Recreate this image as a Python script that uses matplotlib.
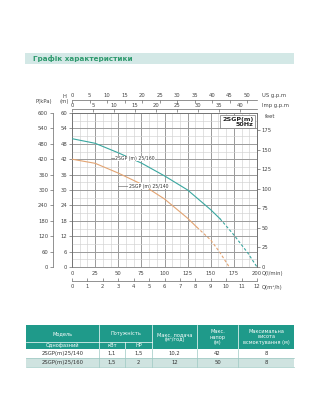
import matplotlib
matplotlib.use("Agg")
import matplotlib.pyplot as plt
import numpy as np
from matplotlib.patches import Rectangle

plt.rcParams['font.family'] = ['DejaVu Sans']

# ---- data ----
title = "Графік характеристики"
q_160 = [0, 25, 50, 75, 100, 125, 150, 160]
h_160 = [50, 48.2, 44.5, 40.5, 35.5, 30, 22.3, 18.8]
q_160_dash = [160, 175, 190, 200]
h_160_dash = [18.8, 12.5, 5.5, 0]
q_140 = [0, 25, 50, 75, 100, 125, 135]
h_140 = [42, 40.4, 36.6, 32.3, 26.5, 19, 15.5]
q_140_dash = [135, 150, 160, 170]
h_140_dash = [15.5, 10.5, 5.6, 0]
label_160 = "2SGP (m) 25/160"
label_140 = "2SGP (m) 25/140"
q_ticks = [0, 25, 50, 75, 100, 125, 150, 175, 200]
h_ticks = [0, 6, 12, 18, 24, 30, 36, 42, 48, 54, 60]
kpa_ticks = [0, 60, 120, 180, 240, 300, 360, 420, 480, 540, 600]
m3h_ticks = list(range(0, 13))
us_gpm_ticks = [0, 5, 10, 15, 20, 25, 30, 35, 40, 45, 50]
imp_gpm_ticks = [0, 5, 10, 15, 20, 25, 30, 35, 40]
feet_ticks = [0, 25, 50, 75, 100, 125, 150, 175]

tbl_models = ["2SGP(m)25/140", "2SGP(m)25/160"]
tbl_kw = ["1,1", "1,5"]
tbl_hp = ["1,5", "2"]
tbl_flow = ["10,2", "12"]
tbl_head = ["42", "50"]
tbl_suction = ["8", "8"]

W, H = 320, 420
fig = plt.figure(figsize=(W / 100, H / 100), dpi=100)
fig.patch.set_facecolor("white")

# background pixel axes
bg = fig.add_axes([0, 0, 1, 1], zorder=0)
bg.set_xlim(0, W)
bg.set_ylim(H, 0)
bg.axis("off")

# header bar
bg.add_patch(Rectangle((25, 53), 269, 11, facecolor="#d3e8e6", edgecolor="none"))
bg.text(33, 58.5, title, fontsize=5.2, fontweight="bold", color="#2f9a6e", va="center", ha="left")

# ---- main chart ----
px0, px1, py0, py1 = 72, 257, 113, 267
ax = fig.add_axes([px0 / W, 1 - py1 / H, (px1 - px0) / W, (py1 - py0) / H], zorder=2)
ax.set_xlim(0, 200)
ax.set_ylim(0, 60)
ax.set_facecolor("none")

# grid
for x in np.arange(0, 200.01, 25 / 3):
    major = abs(x / 25 - round(x / 25)) < 1e-6
    ax.axvline(x, color="#9a9a9a" if major else "#d2d2d2", lw=0.7 if major else 0.45, zorder=0)
for y in np.arange(0, 60.01, 3):
    major = y % 6 == 0
    ax.axhline(y, color="#9a9a9a" if major else "#d2d2d2", lw=0.7 if major else 0.45, zorder=0)

teal = "#3aa7a0"
orange = "#e3a472"
ax.plot(q_160, h_160, color=teal, lw=0.8, zorder=3)
ax.plot(q_160_dash, h_160_dash, color=teal, lw=0.8, ls=(0, (2.5, 1.8)), zorder=3)
ax.plot(q_140, h_140, color=orange, lw=0.8, zorder=3)
ax.plot(q_140_dash, h_140_dash, color=orange, lw=0.8, ls=(0, (2.5, 1.8)), zorder=3)

# curve labels with leader lines
ax.plot([42, 46], [42.3, 42.3], color="#555555", lw=0.4, zorder=4)
ax.text(46.5, 42.3, label_160, fontsize=3.3, va="center", ha="left", color="#333333", zorder=4,
        bbox=dict(facecolor="white", edgecolor="none", pad=0.3))
ax.plot([50, 61], [31.5, 31.5], color="#555555", lw=0.4, zorder=4)
ax.text(61.5, 31.5, label_140, fontsize=3.3, va="center", ha="left", color="#333333", zorder=4,
        bbox=dict(facecolor="white", edgecolor="none", pad=0.3))

# model box
ax.text(196, 58.5, "2SGP(m)\n50Hz", fontsize=4.6, fontweight="bold", ha="right", va="top",
        linespacing=0.95, color="#222222", zorder=5,
        bbox=dict(facecolor="white", edgecolor="#777777", lw=0.5, boxstyle="square,pad=0.25"))

tick_kw = dict(labelsize=3.8, length=2, width=0.4, pad=1.5, colors="#444444")
for s in ax.spines.values():
    s.set_linewidth(0.5)
    s.set_color("#666666")
ax.set_xticks(q_ticks)
ax.set_yticks(h_ticks)
ax.tick_params(axis="both", **tick_kw)
ax.tick_params(axis="x", length=0, pad=3)

# right: feet
sec_ft = ax.secondary_yaxis("right", functions=(lambda m: m / 0.3048, lambda f: f * 0.3048))
sec_ft.set_yticks(feet_ticks)
sec_ft.tick_params(**tick_kw)
sec_ft.spines["right"].set_linewidth(0.5)
sec_ft.spines["right"].set_color("#666666")

# left: kPa
sec_kpa = ax.secondary_yaxis((53 - px0) / (px1 - px0), functions=(lambda m: m * 10, lambda p: p / 10))
sec_kpa.set_yticks(kpa_ticks)
sec_kpa.tick_params(**tick_kw)
sec_kpa.spines["left"].set_linewidth(0.5)
sec_kpa.spines["left"].set_color("#666666")

# bottom: m3/h
sec_m3 = ax.secondary_xaxis(-(281 - py1) / (py1 - py0), functions=(lambda q: q * 0.06, lambda m: m / 0.06))
sec_m3.set_xticks(m3h_ticks)
sec_m3.tick_params(axis="x", direction="in", **tick_kw)
sec_m3.tick_params(axis="x", pad=2.5)
sec_m3.spines["bottom"].set_linewidth(0.5)
sec_m3.spines["bottom"].set_color("#666666")

# top: US gpm
sec_us = ax.secondary_xaxis((py1 - 100.5) / (py1 - py0), functions=(lambda q: q / 3.7854, lambda g: g * 3.7854))
sec_us.set_xticks(us_gpm_ticks)
sec_us.tick_params(axis="x", direction="in", **tick_kw)
sec_us.spines["top"].set_linewidth(0.5)
sec_us.spines["top"].set_color("#666666")

# top: Imp gpm
sec_imp = ax.secondary_xaxis((py1 - 109.5) / (py1 - py0), functions=(lambda q: q / 4.546, lambda g: g * 4.546))
sec_imp.set_xticks(imp_gpm_ticks)
sec_imp.tick_params(axis="x", direction="in", **tick_kw)
sec_imp.tick_params(axis="x", pad=1.0)
sec_imp.spines["top"].set_linewidth(0.5)
sec_imp.spines["top"].set_color("#666666")

# axis unit labels
lab = dict(fontsize=3.8, color="#444444")
bg.text(262, 95.5, "US g.p.m", ha="left", va="center", **lab)
bg.text(262, 105, "Imp g.p.m", ha="left", va="center", **lab)
bg.text(265, 117, "feet", ha="left", va="center", **lab)
bg.text(262, 273.5, "Q(l/min)", ha="left", va="center", **lab)
bg.text(262, 287, "Q(m\u00b3/h)", ha="left", va="center", **lab)
bg.text(64, 96, "H", ha="center", va="center", **lab)
bg.text(64, 102, "(m)", ha="center", va="center", **lab)
bg.text(44, 102, "P(kPa)", ha="center", va="center", **lab)

# ---- table ----
hdr = "#1f9a8a"
xb = [26, 99, 125, 152, 197, 238, 294]
y0, y1, y2, y3, y4 = 325, 342, 349, 358, 367
bg.add_patch(Rectangle((xb[0], y0), xb[-1] - xb[0], y2 - y0, facecolor=hdr, edgecolor="none"))
bg.add_patch(Rectangle((xb[0], y2), xb[-1] - xb[0], y3 - y2, facecolor="white", edgecolor="none"))
bg.add_patch(Rectangle((xb[0], y3), xb[-1] - xb[0], y4 - y3, facecolor="#cfe3e0", edgecolor="none"))
lc = "#ffffff"
bg.plot([xb[0], xb[3]], [y1, y1], color=lc, lw=0.5)
for i, x in enumerate(xb[1:-1], start=1):
    top = y1 if i == 2 else y0
    bg.plot([x, x], [top, y2], color=lc, lw=0.5)
for x in xb[1:-1]:
    bg.plot([x, x], [y2, y4], color="#9dc9c3", lw=0.5)
bg.plot([xb[0], xb[-1]], [y3, y3], color="#9dc9c3", lw=0.5)
bg.plot([xb[0], xb[-1]], [y4, y4], color="#9dc9c3", lw=0.5)

ht = dict(fontsize=3.6, color="white", ha="center", va="center", linespacing=1.1)
cx = [(xb[i] + xb[i + 1]) / 2 for i in range(len(xb) - 1)]
bg.text(cx[0], (y0 + y1) / 2, "Модель", **ht)
bg.text(cx[0], (y1 + y2) / 2, "Однофазний", **ht)
bg.text((xb[1] + xb[3]) / 2, (y0 + y1) / 2, "Потужність", **ht)
bg.text(cx[1], (y1 + y2) / 2, "кВт", **ht)
bg.text(cx[2], (y1 + y2) / 2, "HP", **ht)
bg.text(cx[3], (y0 + y2) / 2, "Макс. подача\n(м\u00b3/год)", **ht)
bg.text(cx[4], (y0 + y2) / 2, "Макс.\nнапор\n(м)", **ht)
bg.text(cx[5], (y0 + y2) / 2, "Максимальна\nвисота\nвсмоктування (м)", **ht)

dt = dict(fontsize=3.8, color="#333333", ha="center", va="center")
for r, yy in enumerate([(y2 + y3) / 2, (y3 + y4) / 2]):
    vals = [tbl_models[r], tbl_kw[r], tbl_hp[r], tbl_flow[r], tbl_head[r], tbl_suction[r]]
    for c, v in enumerate(vals):
        bg.text(cx[c], yy, v, **dt)

fig.savefig("out.png", dpi=100, facecolor="white")
